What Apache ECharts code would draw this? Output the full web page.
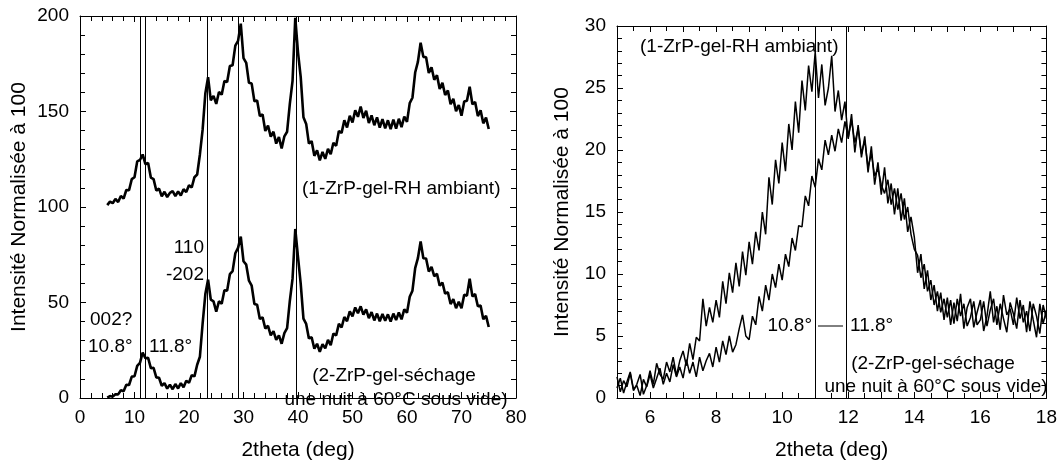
<!DOCTYPE html>
<html>
<head>
<meta charset="utf-8">
<script src="https://cdn.jsdelivr.net/npm/echarts@6/dist/echarts.min.js"></script>
<style>
html,body{margin:0;padding:0;background:#fff;}
#chart{width:1060px;height:466px;}
</style>
</head>
<body>
<div id="chart"></div>
<script>
// ---- Data ----
// Left panel: wide scan, x from 5 to 75 step 0.5
const wideX0 = 5, wideStep = 0.5;
// (1-ZrP-gel-RH ambiant), shifted by +100
const rhWide = [
 101.0,102.8,102.0,104.2,102.6,105.8,104.4,108.9,108.8,114.6,
 115.6,123.9,124.6,127.5,122.4,123.1,115.4,114.6,108.6,109.6,
 105.6,108.0,105.2,107.4,108.3,105.7,108.1,106.0,109.3,107.8,
 111.4,110.2,115.6,117.0,127.5,140.5,159.5,168.0,155.8,158.2,
 154.0,160.2,158.8,166.0,165.4,173.8,174.2,184.5,187.0,196.0,
 178.0,175.5,165.0,164.6,155.4,155.8,147.6,148.5,139.8,142.6,
 136.8,139.4,133.2,136.6,130.6,137.0,139.4,154.0,166.0,199.0,
 181.0,168.0,147.0,143.5,133.2,134.5,126.8,129.6,124.4,128.8,
 125.2,130.4,127.6,133.6,132.0,139.8,138.8,145.4,141.6,147.8,
 144.2,150.6,147.2,152.6,146.6,150.4,144.0,148.0,142.8,146.9,
 141.6,146.0,141.2,145.4,140.8,145.8,141.0,146.2,141.8,147.4,
 144.6,154.4,157.2,170.4,176.0,186.0,178.6,178.4,170.2,173.2,
 166.6,169.0,161.8,165.0,158.6,161.0,153.8,156.6,150.2,153.4,
 147.8,155.2,155.6,163.0,153.8,155.0,147.6,150.6,143.8,146.8,
 140.8
];
// (2-ZrP-gel-séchage une nuit à 60°C sous vide)
const dryWide = [
 0.2,1.0,0.7,2.0,1.9,4.1,3.5,6.9,6.8,11.2,
 11.4,16.8,18.4,23.8,20.8,21.0,15.6,15.8,10.8,10.6,
 6.4,7.8,4.9,7.0,4.6,7.3,5.0,7.8,5.6,9.0,
 8.0,11.9,11.3,17.4,21.6,39.0,54.4,62.0,51.5,50.6,
 45.2,50.6,49.4,56.4,56.2,64.8,66.4,75.8,78.6,84.5,
 71.6,69.8,61.4,58.8,49.2,48.8,41.4,42.2,36.4,37.8,
 32.8,35.0,30.4,32.8,28.4,34.0,36.6,50.8,62.5,88.5,
 73.8,59.8,41.6,38.8,31.2,31.8,25.8,28.4,24.2,28.2,
 26.0,30.4,27.6,33.8,32.8,38.8,36.9,42.4,40.2,45.4,
 42.8,47.4,44.4,48.0,43.6,46.4,41.8,45.0,40.6,44.2,
 40.2,44.0,40.4,43.8,40.0,44.2,40.8,44.8,41.2,46.4,
 44.6,53.0,56.2,68.0,73.2,82.0,73.2,73.0,66.2,68.6,
 63.8,65.0,58.8,60.4,54.6,55.4,49.2,51.8,47.0,50.4,
 47.0,54.0,53.6,62.4,53.2,54.4,48.0,48.4,41.2,43.0,
 37.2
];
// Right panel: zoom scan, x from 5 to 18 step 0.1
const zoomX0 = 5, zoomStep = 0.1;
const rhZoom = [
 1.7,0.5,1.4,0.9,2.0,0.6,1.1,1.9,0.3,1.0,
 2.2,1.1,2.8,1.9,1.5,2.9,2.1,3.3,1.8,3.0,
 3.8,2.6,4.4,3.1,4.9,4.6,8.0,5.8,7.3,6.1,
 7.9,6.5,9.4,7.6,10.1,8.5,10.9,9.0,11.8,9.9,
 12.6,10.8,13.4,11.9,15.0,13.2,17.8,15.6,19.2,17.3,
 20.6,18.3,22.1,20.0,23.9,21.4,25.6,23.2,26.8,24.7,
 27.9,24.2,26.9,23.6,25.0,27.6,23.1,24.8,22.4,23.9,
 20.9,22.9,19.8,22.0,19.4,21.1,18.2,20.3,17.2,19.0,
 16.4,18.6,15.7,17.3,14.8,16.9,14.3,16.1,13.4,14.6,
 13.0,10.1,11.6,8.8,10.3,7.9,9.1,7.0,8.5,6.3,
 8.1,5.9,7.7,6.2,8.4,5.6,7.3,8.0,5.7,6.9,
 7.9,5.4,6.6,8.6,6.1,7.4,5.5,8.3,6.7,7.2,
 5.9,8.1,6.4,7.5,5.3,7.8,6.3,4.9,7.6,6.0,
 7.1
];
const dryZoom = [
 0.8,1.6,0.4,1.3,2.1,0.7,1.0,0.2,1.5,0.9,
 1.9,0.8,1.6,2.4,1.1,2.0,1.3,2.7,1.7,2.5,
 1.6,3.1,2.0,2.9,1.7,3.3,2.2,3.0,3.6,2.5,
 4.1,2.9,4.6,3.5,5.0,3.7,4.3,5.6,6.7,5.0,
 4.7,6.6,5.9,8.2,7.0,9.1,7.9,10.0,8.9,10.8,
 9.5,11.6,10.6,12.9,11.9,13.9,13.8,16.3,15.5,17.9,
 17.0,19.3,18.4,20.8,19.6,21.2,19.9,21.7,20.6,22.3,
 21.0,22.4,20.6,21.7,19.7,20.8,18.6,19.7,17.9,18.5,
 17.2,16.5,17.6,15.6,16.9,15.2,16.5,14.4,15.4,13.2,
 12.0,11.5,9.7,10.8,8.6,9.5,7.5,8.6,6.9,8.0,
 6.5,7.9,6.0,8.0,6.6,7.6,5.8,6.5,7.8,5.9,
 6.3,7.8,5.8,7.1,8.0,5.9,7.6,6.4,5.3,7.7,
 6.8,5.6,7.9,6.1,7.0,5.4,7.6,6.6,5.2,7.5,
 6.4
];
// Reference lines (2theta positions)
const leftRefLines = [11.0, 12.0, 23.35, 29.1, 39.6];
const rightRefLines = [11.0, 11.95];

// ---- Chart ----
const FONT = 'Liberation Sans, Arial, Helvetica, sans-serif';
function pairs(x0, step, arr){ return arr.map((v,i)=>[+(x0+i*step).toFixed(3), v]); }

function axisCommon(extra){
  return Object.assign({
    type:'value',
    axisLine:{show:true, onZero:false, lineStyle:{color:'#000', width:1}},
    axisTick:{show:true, inside:true, length:6, lineStyle:{color:'#000'}},
    minorTick:{show:true, length:5, lineStyle:{color:'#000'}},
    splitLine:{show:false},
    axisLabel:{color:'#000', fontSize:19, fontFamily:FONT},
    nameTextStyle:{color:'#000', fontSize:21, fontFamily:FONT}
  }, extra);
}

const chart = echarts.init(document.getElementById('chart'), null, {renderer:'canvas'});
const refStyle = {color:'#000', width:1, type:'solid'};

function refMark(vals){
  return {silent:true, symbol:['none','none'], label:{show:false}, lineStyle:refStyle,
          data: vals.map(v=>({xAxis:v}))};
}

const option = {
  animation:false,
  backgroundColor:'#fff',
  textStyle:{fontFamily:FONT},
  grid:[
    {left:80, top:16, width:436, height:395.5},
    {left:617, top:26, width:430, height:385}
  ],
  xAxis:[
    axisCommon({gridIndex:0, min:0, max:80, interval:10, position:'bottom',
      minorTick:{show:true, splitNumber:5, length:5, lineStyle:{color:'#000'}},
      axisLabel:{color:'#000', fontSize:19, fontFamily:FONT, margin:10},
      name:'2theta (deg)', nameLocation:'middle', nameGap:42}),
    axisCommon({gridIndex:0, min:0, max:80, interval:10, position:'top',
      minorTick:{show:true, splitNumber:5, length:5, lineStyle:{color:'#000'}},
      axisLabel:{show:false}}),
    axisCommon({gridIndex:1, min:5, max:18, interval:1, position:'bottom',
      minorTick:{show:true, splitNumber:2, length:5, lineStyle:{color:'#000'}},
      axisLabel:{color:'#000', fontSize:19, fontFamily:FONT, margin:10,
        formatter:v=> (Math.round(v)%2===0 ? String(v) : '')},
      name:'2theta (deg)', nameLocation:'middle', nameGap:42}),
    axisCommon({gridIndex:1, min:5, max:18, interval:1, position:'top',
      minorTick:{show:true, splitNumber:2, length:5, lineStyle:{color:'#000'}},
      axisLabel:{show:false}})
  ],
  yAxis:[
    axisCommon({gridIndex:0, min:0, max:200, interval:50, position:'left',
      minorTick:{show:true, splitNumber:5, length:5, lineStyle:{color:'#000'}},
      axisLabel:{color:'#000', fontSize:19, fontFamily:FONT, margin:11},
      name:'Intensité Normalisée à 100', nameLocation:'middle', nameGap:50}),
    axisCommon({gridIndex:0, min:0, max:200, interval:50, position:'right',
      minorTick:{show:true, splitNumber:5, length:5, lineStyle:{color:'#000'}},
      axisLabel:{show:false}}),
    axisCommon({gridIndex:1, min:0, max:30, interval:5, position:'left',
      minorTick:{show:true, splitNumber:5, length:5, lineStyle:{color:'#000'}},
      axisLabel:{color:'#000', fontSize:19, fontFamily:FONT, margin:11},
      name:'Intensité Normalisée à 100', nameLocation:'middle', nameGap:44}),
    axisCommon({gridIndex:1, min:0, max:30, interval:5, position:'right',
      minorTick:{show:true, splitNumber:5, length:5, lineStyle:{color:'#000'}},
      axisLabel:{show:false}})
  ],
  series:[
    {type:'line', name:'RH ambiant (wide)', xAxisIndex:0, yAxisIndex:0, showSymbol:false,
     lineStyle:{color:'#000', width:2.6}, data:pairs(wideX0, wideStep, rhWide),
     markLine:refMark(leftRefLines)},
    {type:'line', name:'séchage (wide)', xAxisIndex:0, yAxisIndex:0, showSymbol:false,
     lineStyle:{color:'#000', width:2.6}, data:pairs(wideX0, wideStep, dryWide)},
    {type:'line', name:'RH ambiant (zoom)', xAxisIndex:2, yAxisIndex:2, showSymbol:false,
     lineStyle:{color:'#000', width:1.5}, data:pairs(zoomX0, zoomStep, rhZoom),
     markLine:refMark(rightRefLines)},
    {type:'line', name:'séchage (zoom)', xAxisIndex:2, yAxisIndex:2, showSymbol:false,
     lineStyle:{color:'#000', width:1.5}, data:pairs(zoomX0, zoomStep, dryZoom)}
  ],
  graphic:[]
};

function txt(text, x, y, align){
  return {type:'text', x:x, y:y, z:100, silent:true,
    style:{text:text, fill:'#000', font:'19px ' + FONT, fontSize:19, fontFamily:FONT,
      align:align||'left', textAlign:align||'left', verticalAlign:'middle', textVerticalAlign:'middle'}};
}
option.graphic = [
  // left panel annotations
  txt('(1-ZrP-gel-RH ambiant)', 302, 189, 'left'),
  txt('110', 204, 248, 'right'),
  txt('-202', 204, 275, 'right'),
  txt('002?', 90, 320, 'left'),
  txt('10.8°', 88, 347, 'left'),
  txt('11.8°', 149, 347, 'left'),
  txt('(2-ZrP-gel-séchage', 394, 376, 'center'),
  txt('une nuit à 60°C sous vide)', 396, 400, 'center'),
  // right panel annotations
  txt('(1-ZrP-gel-RH ambiant)', 640, 47, 'left'),
  txt('10.8°', 812, 326, 'right'),
  {type:'line', silent:true, z:100, shape:{x1:818, y1:326, x2:843, y2:326}, style:{stroke:'#000', lineWidth:1}},
  txt('11.8°', 850, 326, 'left'),
  txt('(2-ZrP-gel-séchage', 933, 364, 'center'),
  txt('une nuit à 60°C sous vide)', 936, 387, 'center')
];

chart.setOption(option);
</script>
</body>
</html>
